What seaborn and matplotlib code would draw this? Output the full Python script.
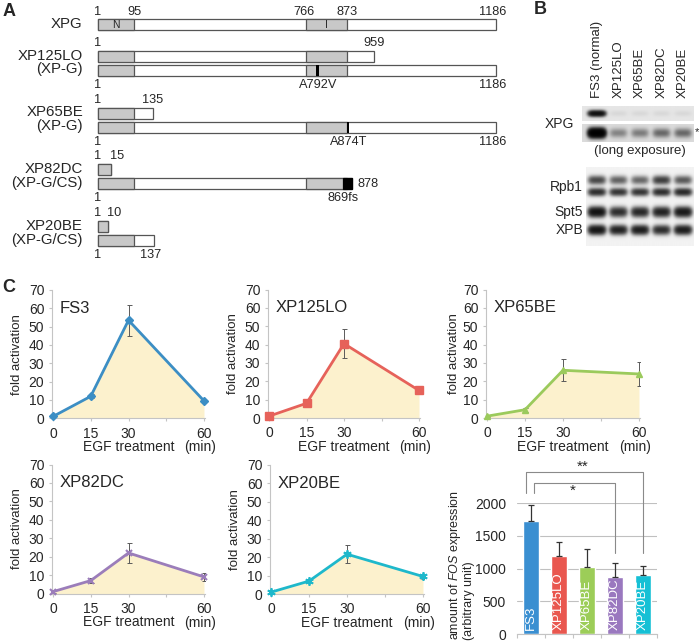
import numpy as np
import matplotlib
matplotlib.use('Agg')
import matplotlib.pyplot as plt
from matplotlib.patches import Rectangle
import seaborn as sns

sns.set_style('white')
plt.rcParams['font.family'] = ['Liberation Sans', 'DejaVu Sans']
plt.rcParams['mathtext.fontset'] = 'custom'
plt.rcParams['mathtext.rm'] = 'Liberation Sans'
plt.rcParams['mathtext.it'] = 'Liberation Sans:italic'

# ---------------- data ----------------
# A: XPG protein and the two alleles of each patient (residue numbers)
xpg_length = 1186
n_domain = (1, 95)
i_domain = (766, 873)
cell_lines = ['XP125LO', 'XP65BE', 'XP82DC', 'XP20BE']
groups = ['(XP-G)', '(XP-G)', '(XP-G/CS)', '(XP-G/CS)']
allele1_end = [959, 135, 15, 10]
allele2_end = [1186, 1186, 878, 137]
allele2_mut = ['A792V', 'A874T', '869fs', None]
allele2_mut_res = [792, 874, 869, None]

# the schematic is not drawn to scale: residue -> drawing position
scale_res = [1, 10, 15, 95, 135, 137, 766, 792, 869, 873, 878, 959, 1186]
scale_pos = [0, 10, 13, 36, 55, 56, 208, 219.5, 245, 249, 254, 276, 398]

# B: western blot band intensities per lane
blot_lanes = ['FS3 (normal)', 'XP125LO', 'XP65BE', 'XP82DC', 'XP20BE']
xpg_short = [0.9, 0.02, 0.02, 0.02, 0.02]
xpg_long = [1.6, 0.17, 0.19, 0.25, 0.25]
rpb1_upper = [0.4, 0.3, 0.28, 0.45, 0.33]
rpb1_lower = [0.55, 0.5, 0.5, 0.55, 0.58]
spt5 = [0.85, 0.55, 0.6, 0.65, 0.75]
xpb = [0.8, 0.65, 0.7, 0.55, 0.7]

# C: FOS induction after EGF treatment
time_min = [0, 15, 30, 60]
fs3_fold = [1, 12, 53.5, 9.5]
fs3_err = [0.5, 1, 8.5, 1]
xp125lo_fold = [1, 8, 40.5, 15]
xp125lo_err = [1, 1, 8, 2]
xp65be_fold = [1, 4.5, 26, 24]
xp65be_err = [0.5, 1, 6, 6.3]
xp82dc_fold = [1, 7, 22, 9]
xp82dc_err = [0.5, 1.5, 5.5, 2]
xp20be_fold = [1, 7, 21.6, 9.5]
xp20be_err = [0.5, 0.7, 5, 1.5]

fos_cells = ['FS3', 'XP125LO', 'XP65BE', 'XP82DC', 'XP20BE']
fos_amount = [1730, 1200, 1030, 865, 900]
fos_err = [240, 210, 265, 218, 138]

# colours
cell_colors = ['#3c8ec4', '#e6625a', '#9bca5c', '#9b7dba', '#1eb8cb']
bar_colors = ['#3a8fd1', '#e9574f', '#9ccd58', '#9a78bf', '#16c0d5']
fill_col = '#fcf1cd'
dom_gray = '#c8c8c8'
edge = '#555555'
spine_col = '#c4c4c4'

W, H = 700, 642
fig = plt.figure(figsize=(7, 6.42), dpi=100)


def add_ax(x0, y0, x1, y1):
    return fig.add_axes([x0 / W, 1 - y1 / H, (x1 - x0) / W, (y1 - y0) / H])


def sx(res):
    return 98 + np.interp(res, scale_res, scale_pos)


# ---------------- panel A ----------------
axA = add_ax(0, 0, 510, 262)
axA.set_xlim(0, 510)
axA.set_ylim(262, 0)
axA.axis('off')
bh = 11
fs_num = 9.2
fs_name = 10.8


def protein_bar(y, end, mut_res=None, frameshift=False):
    axA.add_patch(Rectangle((sx(1), y), sx(end) - sx(1), bh, fc='white', ec=edge, lw=0.9))
    axA.add_patch(Rectangle((sx(n_domain[0]), y), sx(min(end, n_domain[1])) - sx(1), bh,
                            fc=dom_gray, ec=edge, lw=0.9))
    if end > i_domain[0]:
        axA.add_patch(Rectangle((sx(i_domain[0]), y), sx(min(end, i_domain[1])) - sx(i_domain[0]), bh,
                                fc=dom_gray, ec=edge, lw=0.9))
    if mut_res is not None:
        if frameshift:
            axA.add_patch(Rectangle((sx(mut_res), y), sx(end) - sx(mut_res), bh, fc='black', ec='black', lw=0.9))
        else:
            axA.add_patch(Rectangle((sx(mut_res) - 1.4, y), 2.8, bh, fc='black', ec='black', lw=0))


# wild-type XPG
y = 19
protein_bar(y, xpg_length)
axA.text((sx(1) + sx(95)) / 2, y + bh / 2 + 0.5, 'N', fontsize=7.5, ha='center', va='center')
axA.text((sx(766) + sx(873)) / 2, y + bh / 2 + 0.5, 'I', fontsize=7.5, ha='center', va='center')
for r, dx in zip([1, n_domain[1], i_domain[0], i_domain[1], xpg_length], [0, 0, -2, 0, -3]):
    axA.text(sx(r) + dx, y - 7, str(r), fontsize=fs_num, ha='center', va='center')
axA.text(82, y + bh / 2, 'XPG', fontsize=fs_name, ha='right', va='center')

for i, name in enumerate(cell_lines):
    y1 = 51 + i * 56.7
    y2 = y1 + 14
    e1, e2 = allele1_end[i], allele2_end[i]
    protein_bar(y1, e1)
    fs = allele2_mut[i] is not None and allele2_mut[i].endswith('fs')
    protein_bar(y2, e2, allele2_mut_res[i], fs)
    axA.text(83, y1 + bh / 2 - 1, name, fontsize=fs_name, ha='right', va='center')
    axA.text(83, y2 + bh / 2 - 1, groups[i], fontsize=fs_name, ha='right', va='center')
    # labels above allele 1
    axA.text(sx(1), y1 - 8, '1', fontsize=fs_num, ha='center', va='center')
    if e1 < 50:
        axA.text(sx(e1) - 1, y1 - 8, str(e1), fontsize=fs_num, ha='left', va='center')
    else:
        axA.text(sx(e1), y1 - 8, str(e1), fontsize=fs_num, ha='center', va='center')
    # labels below allele 2
    yb = y2 + bh + 9
    axA.text(sx(1), yb, '1', fontsize=fs_num, ha='center', va='center')
    if allele2_mut[i] is not None:
        axA.text(sx(allele2_mut_res[i]) + (0 if fs else 0.5), yb, allele2_mut[i],
                 fontsize=fs_num, ha='center', va='center')
    if fs:
        axA.text(sx(e2) + 6, y2 + bh / 2, str(e2), fontsize=fs_num, ha='left', va='center')
    else:
        axA.text(sx(e2) - 3, yb, str(e2), fontsize=fs_num, ha='center', va='center')

# ---------------- panel B ----------------
axB = add_ax(510, 0, 700, 262)
blot_x0, blot_x1 = 586, 694
lane_x = blot_x0 + (np.arange(len(blot_lanes)) + 0.5) * (blot_x1 - blot_x0) / len(blot_lanes)


def blot_strip(x0, y0, y1, bands, bg):
    xs = np.linspace(x0, blot_x1, 300)
    ys = np.linspace(y0, y1, int((y1 - y0) * 3))
    X, Y = np.meshgrid(xs, ys)
    D = np.zeros_like(X)
    for yc, sig, amps in bands:
        for xc, a in zip(lane_x, amps):
            D += a * np.exp(-((X - xc) / 8.5) ** 4) * np.exp(-0.5 * ((Y - yc) / sig) ** 2)
    img = bg * np.exp(-3 * D)
    axB.imshow(img, cmap='gray', vmin=0, vmax=1, extent=(x0, blot_x1, y1, y0),
               interpolation='bilinear', aspect='auto')


blot_strip(582, 106, 121, [(113.5, 2.0, xpg_short)], 0.9)
blot_strip(582, 124, 142, [(133, 3.0, xpg_long)], 0.86)
blot_strip(blot_x0, 167, 246, [(180, 2.8, rpb1_upper), (192, 2.5, rpb1_lower),
                               (212, 3.2, spt5), (230, 3.0, xpb)], 0.95)
axB.set_xlim(510, 700)
axB.set_ylim(262, 0)
axB.axis('off')

for xc, lane in zip(lane_x, blot_lanes):
    axB.text(xc, 98, lane, rotation=90, fontsize=9.5, ha='center', va='bottom')
axB.text(574, 124, 'XPG', fontsize=10, ha='right', va='center')
axB.text(640, 151, '(long exposure)', fontsize=9.5, ha='center', va='center')
axB.text(694.5, 132, '*', fontsize=8, ha='left', va='center')
axB.text(583, 187, 'Rpb1', fontsize=10, ha='right', va='center')
axB.text(583, 212, 'Spt5', fontsize=10, ha='right', va='center')
axB.text(583, 230, 'XPB', fontsize=10, ha='right', va='center')


# ---------------- panel C: time courses ----------------
def style_spines(ax):
    for s in ['top', 'right']:
        ax.spines[s].set_visible(False)
    for s in ['left', 'bottom']:
        ax.spines[s].set_color(spine_col)
        ax.spines[s].set_linewidth(0.8)


def fold_panel(box, title, vals, errs, color, marker, ms, mew, ylab_dx):
    ax = add_ax(*box)
    hpx = box[3] - box[1]
    wpx = box[2] - box[0]
    ax.fill_between(time_min, vals, 0, color=fill_col, lw=0, zorder=0)
    ax.errorbar(time_min, vals, yerr=errs, fmt='none', ecolor='#5a5a5a',
                elinewidth=0.7, capsize=1.8, capthick=0.7, zorder=2)
    sns.lineplot(x=time_min, y=vals, color=color, lw=2, marker=marker, ms=ms,
                 mec=color, mfc=color, mew=mew, ax=ax, zorder=3, clip_on=False)
    ax.set_xlim(-0.4, 60.4)
    ax.set_ylim(0, 70)
    ax.set_yticks(range(0, 71, 10))
    ax.set_xticks([0, 15, 30, 45, 60])
    ax.set_xticklabels(['0', '15', '30', '', '60'])
    ax.tick_params(axis='both', labelsize=10, color=spine_col, length=2.5, width=0.8,
                   left=True, bottom=True)
    ax.tick_params(axis='y', pad=3)
    ax.tick_params(axis='x', pad=3.5)
    style_spines(ax)
    ax.text(0.05, 60 / 70, title, transform=ax.transAxes, fontsize=12, va='center', ha='left')
    ax.text(0.5, -29 / hpx, 'EGF treatment', transform=ax.transAxes, fontsize=10,
            ha='center', va='center')
    ax.text((58.4 + 0.4) / 60.8, -29 / hpx, '(min)', transform=ax.transAxes, fontsize=10,
            ha='center', va='center')
    ax.text(-ylab_dx / wpx, 0.5, 'fold activation', transform=ax.transAxes, rotation=90,
            fontsize=9.5, ha='center', va='center')
    return ax


fold_panel((52, 290, 205, 418.3), 'FS3', fs3_fold, fs3_err, cell_colors[0], 'D', 4.5, 1, 35)
fold_panel((268, 289.5, 420, 418), 'XP125LO', xp125lo_fold, xp125lo_err, cell_colors[1], 's', 5.5, 1, 35)
fold_panel((486, 289.5, 640, 418), 'XP65BE', xp65be_fold, xp65be_err, cell_colors[2], '^', 5, 1, 32)
fold_panel((52, 464.5, 205, 593.5), 'XP82DC', xp82dc_fold, xp82dc_err, cell_colors[3], 'x', 5, 1.5, 35)
fold_panel((270, 465, 424, 594), 'XP20BE', xp20be_fold, xp20be_err, cell_colors[4], (6, 2, 0), 6, 1.3, 35)

# ---------------- panel C: FOS expression bars ----------------
axb = add_ax(517, 503, 657, 634)
sns.barplot(x=fos_cells, y=fos_amount, hue=fos_cells, palette=bar_colors, legend=False,
            width=0.57, saturation=1, errorbar=None, ax=axb, zorder=2)
axb.errorbar(range(len(fos_cells)), fos_amount, yerr=[np.zeros(len(fos_err)), fos_err],
             fmt='none', ecolor='#333333', elinewidth=0.9, capsize=2.2, capthick=0.9, zorder=3)
axb.set_xlim(-0.5, 4.5)
axb.set_ylim(0, 2005)
axb.set_yticks([0, 500, 1000, 1500, 2000])
axb.yaxis.grid(True, color='#c0c0c0', lw=0.8)
axb.set_axisbelow(True)
axb.set_xticks([])
axb.set_xticks(np.arange(-0.5, 5), minor=True)
axb.set_xlabel('')
axb.set_ylabel('')
axb.tick_params(axis='x', which='minor', bottom=True, length=3, color=spine_col, width=0.8)
axb.tick_params(axis='y', length=0, pad=8, labelsize=10)
for s in ['top', 'right', 'left']:
    axb.spines[s].set_visible(False)
axb.spines['bottom'].set_color(spine_col)
axb.spines['bottom'].set_linewidth(0.8)
for i, name in enumerate(fos_cells):
    axb.text(i, 60, name, rotation=90, color='white', fontsize=9.5, ha='center', va='bottom', zorder=4)

# significance brackets
br = dict(color='#8a8a8a', lw=0.8, clip_on=False)
axb.plot([-0.18, -0.18, 4, 4], [2153, 2473, 2473, 1237], **br)
axb.plot([0.11, 0.11, 3, 3], [2153, 2305, 2305, 1237], **br)
axb.text(1.86, 2560, '**', fontsize=11, ha='center', va='center', clip_on=False)
axb.text(1.5, 2190, '*', fontsize=11, ha='center', va='center', clip_on=False)

fig.text(461 / W, 1 - 640 / H, 'amount of $\\it{FOS}$ expression\n(arbitrary unit)',
         rotation=90, fontsize=9, ha='center', va='bottom', multialignment='left',
         linespacing=1.0)

# panel letters
fig.text(3 / W, 1 - 12 / H, 'A', fontsize=13, fontweight='bold', ha='left', va='center')
fig.text(534 / W, 1 - 10 / H, 'B', fontsize=13, fontweight='bold', ha='left', va='center')
fig.text(2 / W, 1 - 287 / H, 'C', fontsize=13, fontweight='bold', ha='left', va='center')

fig.savefig('out.png', dpi=100)
